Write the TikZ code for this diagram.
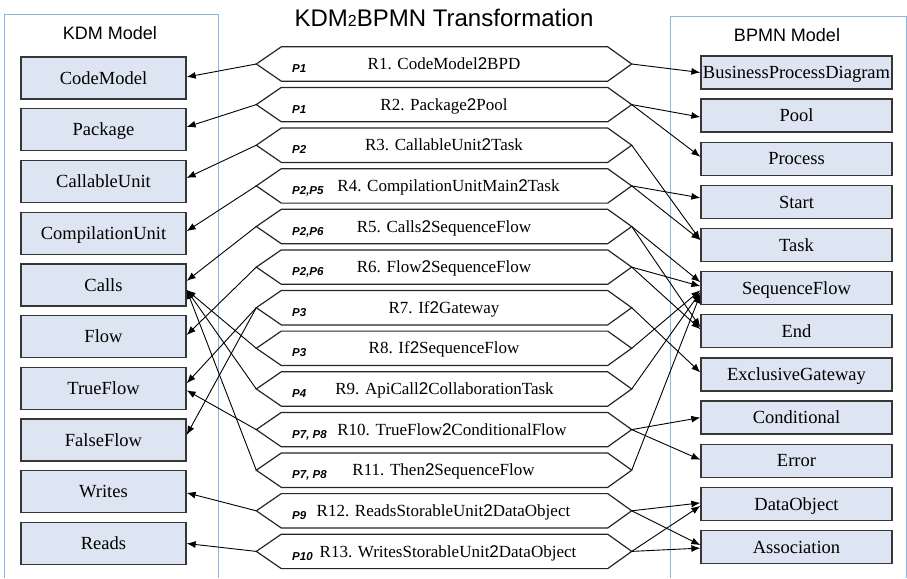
\documentclass[tikz,border=0pt]{standalone}
\usepackage{fontspec}
\setmainfont{Liberation Serif}
\setsansfont{Liberation Sans}
\usetikzlibrary{arrows.meta,calc}
\definecolor{boxfill}{RGB}{220,229,241}
\definecolor{boxline}{RGB}{55,55,55}
\definecolor{frameblue}{RGB}{141,180,226}
% the "2" joining rule names is set in the sans face
\newcommand\tw{{\sffamily 2}}
\tikzset{
  mbox/.style={draw=boxline, line width=1.3pt, fill=boxfill, inner sep=0pt,
    text height=12.2pt, text depth=0pt, font=\fontsize{18.5}{20}\selectfont},
  kdmbox/.style={mbox, minimum width=165pt, minimum height=42pt},
  bpmnbox/.style={mbox, minimum width=191pt, minimum height=33pt},
  hexbody/.style={minimum width=326pt, minimum height=34pt, inner sep=0pt},
  hexline/.style={draw=black!85, line width=1.2pt, line join=miter},
  rulename/.style={font=\fontsize{17}{18}\selectfont, text height=11.3pt,
    text depth=0pt, inner sep=0pt},
  ptag/.style={font=\sffamily\bfseries\itshape\fontsize{11.5}{12}\selectfont,
    anchor=west, inner sep=0pt, text height=8.3pt, text depth=0pt},
  conn/.style={draw=black, line width=0.9pt, -{Latex[length=9pt,width=7pt]}},
  modelframe/.style={draw=frameblue, line width=1pt},
  heading/.style={font=\sffamily\fontsize{18}{20}\selectfont, inner sep=0pt,
    text height=12.9pt, text depth=0pt},
}
% one transformation rule: name, centre y, text x, tag, text
\newcommand\rulehex[5]{%
  \node[hexbody] (#1) at (444.5,#2) {};
  \coordinate (#1l) at ($(#1.west)+(-25,0)$);
  \coordinate (#1r) at ($(#1.east)+(24,0)$);
  \draw[hexline] (#1.north west) -- (#1.north east) -- (#1r) -- (#1.south east)
    -- (#1.south west) -- (#1l) -- cycle;
  \node[ptag] (#1p) at (292,#2+4.5) {#4};
  \node[rulename] (#1t) at (#3,#2) {#5};
}
\begin{document}
\begin{tikzpicture}[x=1pt,y=-1pt]
\useasboundingbox (0,0) rectangle (907,578);

% model frames (open at the bottom)
\draw[modelframe] (4,578) -- (4,14.3) -- (218,14.3) -- (218,578);
\draw[modelframe] (670,578) -- (670,17) -- (906,17) -- (906,578);

% headings
\node[heading] (kdmhead) at (110,33) {KDM Model};
\node[heading] (bpmnhead) at (787,35) {BPMN Model};
\node[font=\sffamily\fontsize{24}{26}\selectfont, inner sep=0pt,
  text height=17.2pt, text depth=0pt] (title) at (444,17.5)
  {KDM{\fontsize{16}{16}\selectfont 2}BPMN Transformation};

% KDM elements
\node[kdmbox] (codemodel) at (103.5,78)    {CodeModel};
\node[kdmbox] (package)   at (103.5,129.7) {Package};
\node[kdmbox] (callable)  at (103.5,181.4) {CallableUnit};
\node[kdmbox] (compunit)  at (103.5,233.2) {CompilationUnit};
\node[kdmbox] (calls)     at (103.5,284.9) {Calls};
\node[kdmbox] (flow)      at (103.5,336.6) {Flow};
\node[kdmbox] (trueflow)  at (103.5,388.3) {TrueFlow};
\node[kdmbox] (falseflow) at (103.5,440)   {FalseFlow};
\node[kdmbox] (writes)    at (103.5,491.8) {Writes};
\node[kdmbox] (reads)     at (103.5,543.5) {Reads};

% BPMN elements
\node[bpmnbox] (bpd)     at (796.5,72.5)  {BusinessProcessDiagram};
\node[bpmnbox] (pool)    at (796.5,115.6) {Pool};
\node[bpmnbox] (process) at (796.5,158.8) {Process};
\node[bpmnbox] (start)   at (796.5,201.9) {Start};
\node[bpmnbox] (task)    at (796.5,245.1) {Task};
\node[bpmnbox] (seqflow) at (796.5,288.2) {SequenceFlow};
\node[bpmnbox] (endev)   at (796.5,331.3) {End};
\node[bpmnbox] (exgw)    at (796.5,374.5) {ExclusiveGateway};
\node[bpmnbox] (cond)    at (796.5,417.6) {Conditional};
\node[bpmnbox] (error)   at (796.5,460.8) {Error};
\node[bpmnbox] (dataobj) at (796.5,503.9) {DataObject};
\node[bpmnbox] (assoc)   at (796.5,547.1) {Association};

% transformation rules
\rulehex{ra}{64}{444}{P1}{R1. CodeModel\tw BPD}
\rulehex{rb}{104.6}{444}{P1}{R2. Package\tw Pool}
\rulehex{rc}{145.2}{444}{P2}{R3. CallableUnit\tw Task}
\rulehex{rd}{185.9}{448.5}{P2,P5}{R4. CompilationUnitMain\tw Task}
\rulehex{re}{226.5}{444}{P2,P6}{R5. Calls\tw SequenceFlow}
\rulehex{rf}{267.1}{444}{P2,P6}{R6. Flow\tw SequenceFlow}
\rulehex{rg}{307.7}{444}{P3}{R7. If\tw Gateway}
\rulehex{rh}{348.3}{444}{P3}{R8. If\tw SequenceFlow}
\rulehex{ri}{389}{444.5}{P4}{R9. ApiCall\tw CollaborationTask}
\rulehex{rj}{429.6}{452}{P7, P8}{R10. TrueFlow\tw ConditionalFlow}
\rulehex{rk}{470.2}{443.5}{P7, P8}{R11. Then\tw SequenceFlow}
\rulehex{rl}{510.8}{443.5}{P9}{R12. ReadsStorableUnit\tw DataObject}
\rulehex{rm}{551.4}{448}{P10}{R13. WritesStorableUnit\tw DataObject}

% rules -> KDM elements
\draw[conn] (ral) -- ($(codemodel.east)+(0,-1)$);
\draw[conn] (rbl) -- ($(package.east)+(0,-2.7)$);
\draw[conn] (rcl) -- ($(callable.east)+(0,-3.4)$);
\draw[conn] (rdl) -- ($(compunit.east)+(0,-2)$);
\draw[conn] (rel) -- ($(calls.east)+(0,-4)$);
\draw[conn] (rhl) -- ($(calls.east)+(0,5)$);
\draw[conn] (ril) -- ($(calls.east)+(0,5)$);
\draw[conn] (rkl) -- ($(calls.east)+(0,5)$);
\draw[conn] (rfl) -- ($(flow.east)+(0,-1.5)$);
\draw[conn] (rgl) -- ($(trueflow.east)+(0,-5)$);
\draw[conn] (rgl) -- ($(falseflow.east)+(0,-5)$);
\draw[conn] (rjl) -- ($(trueflow.east)+(0,2)$);
\draw[conn] (rll) -- ($(writes.east)+(0,1)$);
\draw[conn] (rml) -- (reads.east);

% rules -> BPMN elements
\draw[conn] (rar) -- (bpd.west);
\draw[conn] (rbr) -- ($(pool.west)+(0,1.5)$);
\draw[conn] (rbr) -- ($(process.west)+(0,-2)$);
\draw[conn] (rcr) -- ($(task.west)+(0,-5)$);
\draw[conn] (rdr) -- ($(start.west)+(0,-4)$);
\draw[conn] (rdr) -- ($(task.west)+(0,-5)$);
\draw[conn] (rer) -- ($(seqflow.west)+(0,-6)$);
\draw[conn] (rer) -- ($(endev.west)+(0,-4)$);
\draw[conn] (rfr) -- ($(seqflow.west)+(0,-2)$);
\draw[conn] (rfr) -- ($(endev.west)+(0,-2)$);
\draw[conn] (rgr) -- ($(exgw.west)+(0,-2)$);
\draw[conn] (rhr) -- ($(seqflow.west)+(0,2)$);
\draw[conn] (rir) -- ($(seqflow.west)+(0,4)$);
\draw[conn] (rkr) -- ($(seqflow.west)+(0,6)$);
\draw[conn] (rjr) -- (cond.west);
\draw[conn] (rjr) -- ($(error.west)+(0,-1)$);
\draw[conn] (rlr) -- ($(dataobj.west)+(0,-1)$);
\draw[conn] (rlr) -- ($(assoc.west)+(0,-2)$);
\draw[conn] (rmr) -- ($(dataobj.west)+(0,2)$);
\draw[conn] (rmr) -- ($(assoc.west)+(0,1)$);
\end{tikzpicture}
\end{document}
